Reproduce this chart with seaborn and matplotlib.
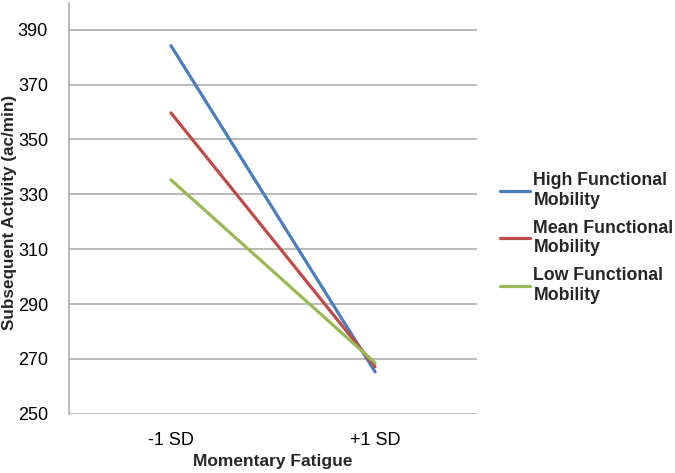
import pandas as pd
import seaborn as sns
import matplotlib.pyplot as plt

# Data
fatigue = ['-1 SD', '+1 SD']
high_mobility = [384.2, 265.3]
mean_mobility = [359.7, 267.2]
low_mobility = [335.3, 268.6]
groups = ['High Functional\nMobility', 'Mean Functional\nMobility', 'Low Functional\nMobility']
y_ticks = [250, 270, 290, 310, 330, 350, 370, 390]
colors = ['#4A7EBB', '#BE4B48', '#98B954']

df = pd.DataFrame({
    'fatigue': fatigue * 3,
    'activity': high_mobility + mean_mobility + low_mobility,
    'group': [groups[0]] * 2 + [groups[1]] * 2 + [groups[2]] * 2,
})

sns.set_style('white')
plt.rcParams['font.family'] = ['Liberation Sans', 'DejaVu Sans']

fig = plt.figure(figsize=(6.75, 4.73), dpi=100)
ax = fig.add_axes([0.102, 0.125, 0.605, 0.869])

sns.lineplot(data=df, x='fatigue', y='activity', hue='group', palette=colors,
             linewidth=2.3, sort=False, ax=ax)

ax.set_xlim(-0.5, 1.5)
ax.set_ylim(250, 399.8)
ax.set_yticks(y_ticks)
ax.yaxis.grid(True, color='#A6A6A6', linewidth=1.1)
ax.set_axisbelow(True)
for s in ['top', 'right', 'bottom']:
    ax.spines[s].set_visible(False)
ax.spines['left'].set_color('#A6A6A6')
ax.spines['left'].set_linewidth(1.1)
ax.tick_params(axis='both', length=0, labelsize=13, colors='#000000')
ax.tick_params(axis='y', pad=15)
ax.tick_params(axis='x', pad=13)

ax.set_xlabel('Momentary Fatigue', fontsize=12.5, fontweight='bold')
ax.set_ylabel('Subsequent Activity (ac/min)', fontsize=12.3, fontweight='bold')
ax.xaxis.set_label_coords(0.5, -0.097)
ax.yaxis.set_label_coords(-0.128, 0.49)

handles, labels = ax.get_legend_handles_labels()
ax.get_legend().remove()
fig.legend(handles, labels, loc='center left', bbox_to_anchor=(0.741, 0.497),
           frameon=False, prop={'size': 12.8, 'weight': 'bold'},
           borderaxespad=0, borderpad=0,
           handlelength=1.7, handletextpad=0.17, labelspacing=0.62)

fig.savefig('out.png', dpi=100)
